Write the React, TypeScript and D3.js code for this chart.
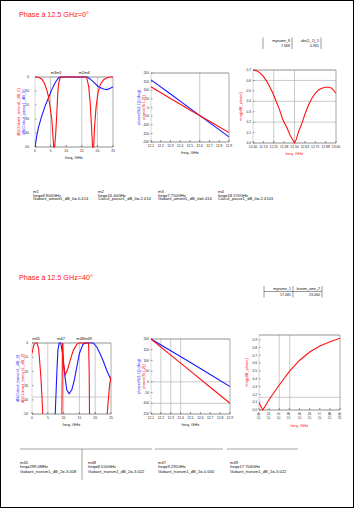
import React from "react";
import * as d3 from "d3";

// ---------- DATA ----------
const titleTop = "Phase à 12.5 GHz=0°";
const titleBottom = "Phase à 12.5 GHz=40°";

const smallTableTopHeaders = ["myname_8", "abs(1_1)_5"];
const smallTableTopValues = ["7.668", "0.961"];
const smallTableBotHeaders = ["myname_1", "broom_ame_2"];
const smallTableBotValues = ["17.081", "23.060"];

// top plot 1 : freq (GHz) vs dB
const t1Ticks = [0, 5, 10, 15, 20, 25];
const t1YTicks = [0, -10, -20, -30, -40, -50];
const t1RedX = [0, 1.07, 2.15, 2.68, 3.2, 3.75, 4.3, 4.8, 5.4, 5.7, 6.0, 6.3, 6.65, 7.0, 7.3, 7.6, 8.05, 8.6, 16.1, 16.6, 17.2, 17.7, 18.1, 18.45, 18.8, 19.1, 19.6, 20.2, 20.9, 22, 23.1, 24.1, 25];
const t1RedY = [0, -0.2, -1.4, -3.1, -5.5, -9, -13.8, -21, -30.5, -40, -50, -50, -40, -25.7, -11.4, -4.3, -0.7, 0, 0, -0.7, -6.7, -18.6, -35, -50, -50, -35, -21, -11.4, -5.5, -1.9, -0.5, 0, 0];
const t1BlueX = [0, 0.54, 1.07, 2.15, 3.2, 4.3, 5.4, 6.4, 7.5, 8, 16.8, 18.2, 19.3, 20.4, 22, 23.1, 24.1, 25];
const t1BlueY = [-50, -42.4, -36.4, -28, -21, -15, -9, -4.3, -0.7, 0, 0, -2.4, -4.8, -7.1, -8.6, -9, -8.1, -7.1];

// top plot 2 : phase lines
const t2XTicks = [12.1, 12.2, 12.3, 12.4, 12.5, 12.6, 12.7, 12.8, 12.9];
const t2YTicks = [200, 150, 100, 50, 0, -50, -100, -150, -200];
const t2X = [12.1, 12.3, 12.5, 12.7, 12.9];
const t2Blue = [160, 78, -5, -88, -170];
const t2Red = [120, 52, -15, -80, -145];

// top plot 3 : magnitude
const t3XTicks = [12.0, 12.125, 12.25, 12.375, 12.5, 12.625, 12.75, 12.875, 13.0];
const t3YTicks = [0.7, 0.6, 0.5, 0.4, 0.3, 0.2, 0.1, 0];
const t3X = [12.0, 12.04, 12.08, 12.12, 12.16, 12.2, 12.24, 12.28, 12.32, 12.36, 12.41, 12.45, 12.49, 12.5, 12.52, 12.55, 12.59, 12.63, 12.67, 12.71, 12.75, 12.79, 12.83, 12.87, 12.91, 12.95, 13.0];
const t3Y = [0.7, 0.694, 0.675, 0.643, 0.598, 0.541, 0.477, 0.398, 0.318, 0.223, 0.143, 0.07, 0.016, 0.0, 0.032, 0.111, 0.191, 0.286, 0.366, 0.429, 0.477, 0.509, 0.525, 0.534, 0.534, 0.525, 0.477];

// top marker table
const topMarkers = [
  ["m1", "freq=8.900GHz", "Gabarit_amont1_dB_0=-0.414"],
  ["m2", "freq=16.40GHz", "Calcul_passe1_dB_0=-2.414"],
  ["m3", "freq=7.750GHz", "Gabarit_amont1_dB_0=0.414"],
  ["m4", "freq=18.570GHz", "Calcul_passe1_dB_0=-2.4143"],
];

// bottom plot 1 (NaN = curve below the visible range)
const b1XTicks = [0, 5, 10, 15, 20, 25];
const b1YTicks = [0, -10, -20, -30, -40, -50];
const b1RedX = [0, 0.53, 1.05, 1.6, 2.1, 2.4, 2.8, 3.15, 3.4, 3.5, 9.4, 9.45, 9.66, 10.0, 10.5, 11.2, 12.1, 13.1, 14.2, 14.7, 17.9, 18.1, 18.2, 18.3, 23.7, 23.8, 24.5, 25];
const b1RedY = [-7.4, -1.6, 0, 0, -4, -12, -23.7, -37.7, -50, NaN, NaN, -50, 0, -14.4, -22.6, -19, -12, -5, -1, 0, 0, -21, -50, NaN, NaN, -50, -30.7, -23.7];
const b1BlueX = [7.35, 7.9, 8.2, 8.6, 9.1, 9.66, 10.3, 11.0, 11.76, 12.6, 13.4, 14.2, 15.0, 16.1, 16.8, 19.4, 20.5, 21.5, 22.6, 23.6, 25];
const b1BlueY = [-50, -19, -5, 0, 0, -7.4, -21.4, -33, -35.8, -33, -26, -16.7, -7.4, -1, 0, 0, -2.8, -7.4, -13, -19, -26];

// bottom plot 2
const b2XTicks = [12.1, 12.2, 12.3, 12.4, 12.5, 12.6, 12.7, 12.8, 12.9];
const b2YTicks = [200, 150, 100, 50, 0, -50, -100, -150];
const b2X = [12.1, 12.3, 12.5, 12.7, 12.9];
const b2Blue = [200, 145, 90, 34, -22];
const b2Red = [200, 125, 50, -25, -100];

// bottom plot 3
const b3XTicks = [12.0, 12.125, 12.25, 12.375, 12.5, 12.625, 12.75, 12.875, 13.0];
const b3YTicks = [0.9, 0.8, 0.7, 0.6, 0.5, 0.4, 0.3, 0.2, 0.1, 0];
const b3X = [12.0, 12.046, 12.136, 12.25, 12.383, 12.506, 12.63, 12.753, 12.877, 13.0];
const b3Y = [0.093, 0.0, 0.15, 0.32, 0.503, 0.64, 0.746, 0.819, 0.874, 0.918];

// bottom marker table
const botMarkers = [
  ["m45", "freq=299.0MHz", "Gabarit_transm1_dB_2=-3.008"],
  ["m48", "freq=8.550GHz", "Gabarit_transm1_dB_2=-3.022"],
  ["m47", "freq=9.295GHz", "Gabarit_transm1_dB_2=-0.000"],
  ["m49", "freq=17.704GHz", "Gabarit_transm1_dB_2=-3.022"],
];

const RED = "#ff1010";
const BLUE = "#1a1aff";
const GRID = "#bdbdbd";
const FONT = "Liberation Sans, Arial, sans-serif";

type Series = { xs: number[]; ys: number[]; color: string };

type PlotProps = {
  left: number; top: number; w: number; h: number;
  xDomain: [number, number]; yDomain: [number, number];
  xTicks: number[]; yTicks: number[];
  xFmt?: (v: number) => string; yFmt?: (v: number) => string;
  series: Series[];
  vGrid?: number[]; hGrid?: number[];
  yLabels: { text: string; color: string }[];
  xLabelColor?: string;
  rotateX?: boolean;
  yLabelGap?: number;
  markers?: { x: number; text: string }[];
};

function Plot(p: PlotProps) {
  const xs = d3.scaleLinear().domain(p.xDomain).range([p.left, p.left + p.w]);
  const ys = d3.scaleLinear().domain(p.yDomain).range([p.top + p.h, p.top]);
  const line = d3.line<[number, number]>()
    .defined(d => !isNaN(d[1]))
    .x(d => xs(d[0])).y(d => ys(d[1]));
  const xf = p.xFmt || ((v: number) => String(v));
  const yf = p.yFmt || ((v: number) => String(v));
  const clipId = `clip${p.left}_${p.top}`;
  const gap = p.yLabelGap ?? 2;
  return (
    <g fontFamily={FONT}>
      <defs>
        <clipPath id={clipId}>
          <rect x={p.left} y={p.top - 1} width={p.w} height={p.h + 2} />
        </clipPath>
      </defs>
      {(p.vGrid || []).map((v, i) => (
        <line key={"vg" + i} x1={xs(v)} x2={xs(v)} y1={p.top} y2={p.top + p.h} stroke={GRID} strokeWidth={0.8} />
      ))}
      {(p.hGrid || []).map((v, i) => (
        <line key={"hg" + i} x1={p.left} x2={p.left + p.w} y1={ys(v)} y2={ys(v)} stroke={GRID} strokeWidth={0.8} />
      ))}
      <line x1={p.left} x2={p.left + p.w} y1={p.top} y2={p.top} stroke="#777" strokeWidth={0.8} />
      <line x1={p.left} x2={p.left + p.w} y1={p.top + p.h} y2={p.top + p.h} stroke="#444" strokeWidth={0.6} />
      <line x1={p.left} x2={p.left} y1={p.top} y2={p.top + p.h} stroke="#aaa" strokeWidth={0.5} />
      <line x1={p.left + p.w} x2={p.left + p.w} y1={p.top} y2={p.top + p.h} stroke="#888" strokeWidth={0.7} />
      {p.xTicks.map((v, i) => (
        <g key={"xt" + i}>
          <line x1={xs(v)} x2={xs(v)} y1={p.top + p.h} y2={p.top + p.h - 2} stroke="#333" strokeWidth={0.5} />
          {p.rotateX ? (
            <text x={xs(v) + 1.1} y={p.top + p.h + 2} fontSize={3} textAnchor="end" fill="#222"
              transform={`rotate(-90 ${xs(v) + 1.1} ${p.top + p.h + 2})`}>{xf(v)}</text>
          ) : (
            <text x={xs(v)} y={p.top + p.h + 5} fontSize={3.3} textAnchor="middle" fill="#222">{xf(v)}</text>
          )}
        </g>
      ))}
      {p.yTicks.map((v, i) => (
        <g key={"yt" + i}>
          <line x1={p.left} x2={p.left + 1.5} y1={ys(v)} y2={ys(v)} stroke="#333" strokeWidth={0.5} />
          <text x={p.left - gap} y={ys(v) + 1.2} fontSize={3.3} textAnchor="end" fill="#222">{yf(v)}</text>
        </g>
      ))}
      <g clipPath={`url(#${clipId})`}>
        {p.series.map((s, i) => (
          <path key={"s" + i} d={line(s.xs.map((x, j) => [x, s.ys[j]]) as [number, number][]) || ""} fill="none" stroke={s.color} strokeWidth={1.1} />
        ))}
      </g>
      <text x={p.left + p.w / 2} y={p.top + p.h + (p.rotateX ? 17 : 12)} fontSize={4.2} textAnchor="middle" fill={p.xLabelColor || "#222"}>freq, GHz</text>
      {p.yLabels.map((l, i) => {
        const lx = p.left - 9 - gap + i * 4.5;
        const ly = p.top + p.h / 2;
        return (
          <text key={"yl" + i} x={lx} y={ly} fontSize={4} textAnchor="middle" fill={l.color} transform={`rotate(-90 ${lx} ${ly})`}>{l.text}</text>
        );
      })}
      {(p.markers || []).map((m, i) => (
        <text key={"mk" + i} x={xs(m.x)} y={p.top - 3} fontSize={4} textAnchor="middle" fill="#111">{m.text}</text>
      ))}
    </g>
  );
}

function SmallTable({ x, y, headers, values, colW, rowGap, topLine }: { x: number; y: number; headers: string[]; values: string[]; colW: number; rowGap: number; topLine?: boolean }) {
  return (
    <g fontFamily={FONT} fontSize={3.6} fill="#111">
      {topLine && <line x1={x} x2={x + headers.length * colW} y1={y + 1.5} y2={y + 1.5} stroke="#333" strokeWidth={0.5} />}
      {headers.map((h, i) => (
        <g key={i}>
          <line x1={x + i * colW} x2={x + i * colW} y1={y - 4} y2={y + rowGap + 2} stroke="#333" strokeWidth={0.5} />
          <text x={x + (i + 1) * colW - 2} y={y} textAnchor="end">{h}</text>
          <text x={x + (i + 1) * colW - 2} y={y + rowGap} textAnchor="end">{values[i]}</text>
        </g>
      ))}
      <line x1={x + headers.length * colW} x2={x + headers.length * colW} y1={y - 4} y2={y + rowGap + 2} stroke="#333" strokeWidth={0.5} />
    </g>
  );
}

const topCols = [33, 98, 158, 218];
const botCols = [20, 88, 158, 230];

export default function App() {
  return (
    <div style={{ position: "absolute", left: 0, top: 0 }}>
      <svg width={356} height={512} style={{ display: "block", background: "#fff" }}>
        <rect x={0.5} y={0.5} width={353} height={507} fill="none" stroke="#000" strokeWidth={1} />
        <text x={19} y={17} fontSize={7.2} fill={RED} fontFamily={FONT}>{titleTop}</text>
        <text x={19} y={280} fontSize={7.2} fill={RED} fontFamily={FONT}>{titleBottom}</text>

        <SmallTable x={263} y={41.5} headers={smallTableTopHeaders} values={smallTableTopValues} colW={29} rowGap={5.5} />
        <SmallTable x={264} y={290} headers={smallTableBotHeaders} values={smallTableBotValues} colW={29} rowGap={5.5} topLine />

        <Plot left={35} top={77} w={78} h={70} xDomain={[0, 25]} yDomain={[-50, 0]}
          xTicks={t1Ticks} yTicks={t1YTicks} vGrid={[5, 15, 20]} hGrid={[]} yLabelGap={6}
          series={[{ xs: t1BlueX, ys: t1BlueY, color: BLUE }, { xs: t1RedX, ys: t1RedY, color: RED }]}
          yLabels={[{ text: "dB(Gabarit_amont1_dB_0)", color: RED }, { text: "dB(Calcul_passe1_dB_0)", color: BLUE }]}
          markers={[{ x: 6.8, text: "m3m1" }, { x: 15.8, text: "m2m4" }]} />

        <Plot left={151} top={73} w={78} h={69} xDomain={[12.1, 12.9]} yDomain={[-200, 200]}
          xTicks={t2XTicks} yTicks={t2YTicks} vGrid={[12.6]} hGrid={[]}
          xFmt={v => v.toFixed(1)}
          series={[{ xs: t2X, ys: t2Blue, color: BLUE }, { xs: t2X, ys: t2Red, color: RED }]}
          yLabels={[{ text: "phase(S(2,1)) (deg)", color: BLUE }, { text: "phase(S(1,2))", color: RED }]} />

        <Plot left={253} top={70} w={83} h={73} xDomain={[12.0, 13.0]} yDomain={[0, 0.7]}
          xTicks={t3XTicks} yTicks={t3YTicks} vGrid={[12.25, 12.5]} hGrid={[0.6, 0.4, 0.2]}
          xFmt={v => v.toFixed(2)} yFmt={v => v.toFixed(1)} xLabelColor={RED}
          series={[{ xs: t3X, ys: t3Y, color: RED }]}
          yLabels={[{ text: "mag(diff_phase)", color: RED }]} />

        <g fontFamily={FONT} fontSize={4.1} fill="#111">
          {topMarkers.map((m, i) => (
            <g key={i}>
              {m.map((t, j) => (
                <text key={j} x={topCols[i]} y={193 + j * 3.7}>{t}</text>
              ))}
            </g>
          ))}
        </g>

        <Plot left={32} top={343} w={79} h={71} xDomain={[0, 25]} yDomain={[-50, 0]}
          xTicks={b1XTicks} yTicks={b1YTicks} vGrid={[5, 10, 15, 20]} hGrid={[-38]} yLabelGap={4}
          series={[{ xs: b1BlueX, ys: b1BlueY, color: BLUE }, { xs: b1RedX, ys: b1RedY, color: RED }]}
          yLabels={[{ text: "dB(Calcul_transm1_dB_2)", color: BLUE }, { text: "dB(Gabarit_transm1_dB_2)", color: RED }]}
          markers={[{ x: 1.3, text: "m45" }, { x: 9.2, text: "m47" }, { x: 16.5, text: "m48m49" }]} />

        <Plot left={151} top={339} w={79} h={75} xDomain={[12.1, 12.9]} yDomain={[-150, 200]}
          xTicks={b2XTicks} yTicks={b2YTicks} vGrid={[12.2, 12.3, 12.4]} hGrid={[0, -100]}
          xFmt={v => v.toFixed(1)}
          series={[{ xs: b2X, ys: b2Blue, color: BLUE }, { xs: b2X, ys: b2Red, color: RED }]}
          yLabels={[{ text: "phase(S(2,1)) (deg)", color: BLUE }, { text: "phase(S(1,2))", color: RED }]} />

        <Plot left={259} top={335} w={81} h={75} xDomain={[12.0, 13.0]} yDomain={[0, 0.96]}
          xTicks={b3XTicks} yTicks={b3YTicks} vGrid={[12.25, 12.38]} hGrid={[0.163]} rotateX
          xFmt={v => v.toFixed(2)} yFmt={v => v.toFixed(1)} xLabelColor={RED}
          series={[{ xs: b3X, ys: b3Y, color: RED }]}
          yLabels={[{ text: "mag(diff_phase)", color: RED }]} />

        <g fontFamily={FONT} fontSize={4.1} fill="#111">
          <line x1={20} x2={152} y1={449} y2={449} stroke="#444" strokeWidth={0.5} />
          <line x1={155} x2={223} y1={449} y2={449} stroke="#444" strokeWidth={0.5} />
          <line x1={227} x2={298} y1={449} y2={449} stroke="#444" strokeWidth={0.5} />
          <line x1={82} x2={82} y1={449} y2={480} stroke="#444" strokeWidth={0.5} />
          {botMarkers.map((m, i) => (
            <g key={i}>
              {m.map((t, j) => (
                <text key={j} x={botCols[i]} y={464 + j * 4.3}>{t}</text>
              ))}
            </g>
          ))}
        </g>
      </svg>
    </div>
  );
}
